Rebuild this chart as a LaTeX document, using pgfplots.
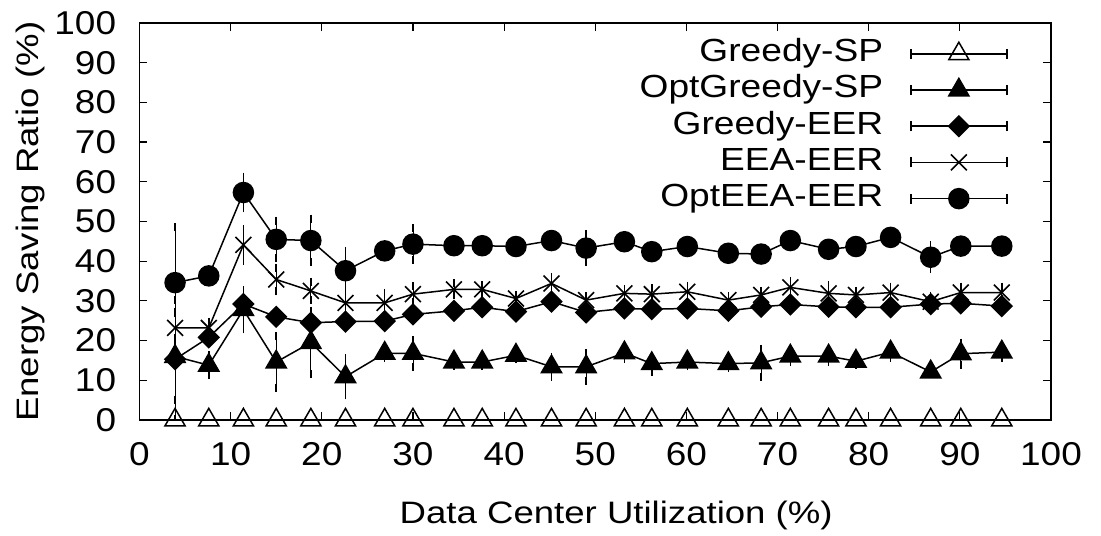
\documentclass[border=0pt]{standalone}
\usepackage{fontspec}
\setmainfont{Liberation Sans}
\newfontfamily\tickfont{Liberation Sans}[FakeStretch=1.12]
\newfontfamily\labfont{Liberation Sans}[FakeStretch=1.18]
\newfontfamily\legfont{Liberation Sans}[FakeStretch=1.16]
\usepackage{pgfplots}
\pgfplotsset{compat=1.18}
\begin{document}
\fontsize{16.5}{19.8}\selectfont
\begin{tikzpicture}
\useasboundingbox (-69.75pt,-57.5pt) rectangle (480.75pt,210pt);
\begin{axis}[
  at={(0,0)}, anchor=south west,
  scale only axis, width=455.75pt, height=198.5pt,
  xmin=0, xmax=100, ymin=0, ymax=100,
  xtick={0,10,...,100}, ytick={0,10,...,100},
  tick align=inside, major tick length=4pt,
  axis line style={line width=0.6pt},
  every tick/.style={black, line width=0.6pt},
  /pgf/number format/assume math mode=true,
  tick label style={font=\tickfont\fontsize{16.5}{19.8}\selectfont},
  yticklabel style={xshift=-6pt},
  xticklabel style={yshift=-5.5pt},
  label style={font=\labfont\fontsize{15.5}{18.6}\selectfont},
  xlabel={Data Center Utilization (\%)},
  ylabel={Energy Saving Ratio (\%)},
  xlabel style={at={(axis description cs:0.523,-0.2393)}, anchor=center},
  ylabel style={at={(axis description cs:-0.1201,0.5)}, anchor=center},
  legend cell align=right,
  legend plot pos=right,
  legend style={at={(axis description cs:0.9594,0.979)}, anchor=north east,
    draw=none, fill=none, row sep=0pt, column sep=12pt,
    font=\legfont\fontsize{16}{19.2}\selectfont,
    nodes={inner sep=1.5pt, text height=11.5pt, text depth=3.6pt}},
  legend image code/.code={%
    \draw[mark repeat=2,mark phase=2,#1] plot coordinates {(0pt,0pt) (24pt,0pt) (48pt,0pt)};
    \draw[#1] (0pt,-2.5pt) -- (0pt,2.5pt) (48pt,-2.5pt) -- (48pt,2.5pt);
  },
  every axis plot/.append style={black, line width=0.75pt},
]
% Greedy-SP
\addplot[mark=triangle, mark size=5.8pt, mark options={fill=white}] table[x=x,y=y] {
x y
3.9 0
7.6 0
11.4 0
15.0 0
18.8 0
22.6 0
26.9 0
30.0 0
34.5 0
37.6 0
41.3 0
45.2 0
49.0 0
53.2 0
56.2 0
60.1 0
64.6 0
68.2 0
71.4 0
75.6 0
78.6 0
82.4 0
86.8 0
90.1 0
94.6 0
};
\addlegendentry{Greedy-SP}
% OptGreedy-SP
\addplot[mark=triangle*, mark size=5.8pt, mark options={fill=black},
  error bars/.cd, y dir=both, y explicit, error mark options={black, mark size=2pt, line width=0.75pt}]
  table[x=x,y=y,y error=e] {
x y e
3.9 16.0 11
7.6 13.8 2.5
11.4 27.8 5
15.0 14.6 6.5
18.8 19.5 8
22.6 10.9 4.7
26.9 16.8 1.2
30.0 16.8 3.4
34.5 14.6 1
37.6 14.6 1
41.3 16.3 1
45.2 13.4 2.5
49.0 13.4 3.5
53.2 16.9 1.5
56.2 14.2 2
60.1 14.6 1
64.6 14.2 1
68.2 14.4 3.5
71.4 16.1 1.5
75.6 16.1 1.5
78.6 14.8 1
82.4 17.1 1.5
86.8 12.1 0.5
90.1 16.7 2.8
94.6 17.1 1.5
};
\addlegendentry{OptGreedy-SP}
% Greedy-EER
\addplot[mark=square*, mark size=3.6pt, mark options={fill=black, rotate=45},
  error bars/.cd, y dir=both, y explicit, error mark options={black, mark size=2pt, line width=0.75pt, rotate=0}]
  table[x=x,y=y,y error=e] {
x y e
3.9 15.3 15
7.6 20.8 1.5
11.4 29.2 3
15.0 26.0 1
18.8 24.5 1.5
22.6 24.8 1.5
26.9 24.9 1
30.0 26.6 1
34.5 27.5 1
37.6 28.4 1
41.3 27.3 1
45.2 29.8 1
49.0 27.1 1
53.2 28.1 1
56.2 27.9 1
60.1 28.1 1
64.6 27.5 1
68.2 28.5 1
71.4 29.1 1
75.6 28.5 1
78.6 28.4 1
82.4 28.4 1
86.8 29.2 1
90.1 29.4 1
94.6 28.7 1
};
\addlegendentry{Greedy-EER}
% EEA-EER
\addplot[mark=x, mark size=5.6pt, mark options={line width=0.8pt},
  error bars/.cd, y dir=both, y explicit, error mark options={black, mark size=2pt, line width=0.75pt}]
  table[x=x,y=y,y error=e] {
x y e
3.9 23.2 4
7.6 23.2 1.5
11.4 44.1 4
15.0 35.4 3
18.8 32.5 2.3
22.6 29.5 1.5
26.9 29.5 2.5
30.0 31.7 2
34.5 32.9 1.5
37.6 32.9 1
41.3 30.6 1
45.2 34.4 1.5
49.0 30.2 1
53.2 31.9 1
56.2 31.7 1.5
60.1 32.3 1.5
64.6 30.2 1
68.2 31.5 1
71.4 33.4 1.5
75.6 31.9 2
78.6 31.5 1
82.4 32.1 1.5
86.8 29.8 1.5
90.1 32.1 1.5
94.6 32.1 1.5
};
\addlegendentry{EEA-EER}
% OptEEA-EER
\addplot[mark=*, mark size=5pt, mark options={fill=black},
  error bars/.cd, y dir=both, y explicit, error mark options={black, mark size=2pt, line width=0.75pt}]
  table[x=x,y=y,y error=e] {
x y e
3.9 34.6 14
7.6 36.3 1
11.4 57.3 4
15.0 45.5 4.7
18.8 45.2 5.5
22.6 37.6 5
26.9 42.6 1
30.0 44.3 4
34.5 43.9 1
37.6 43.9 1
41.3 43.7 1
45.2 45.2 1
49.0 43.3 3.5
53.2 44.9 1
56.2 42.4 1
60.1 43.7 1
64.6 42.0 1
68.2 41.8 1
71.4 45.2 1
75.6 43.0 1
78.6 43.7 1
82.4 46.0 1
86.8 41.0 3
90.1 43.8 1
94.6 43.8 1
};
\addlegendentry{OptEEA-EER}
\end{axis}
\end{tikzpicture}
\end{document}
